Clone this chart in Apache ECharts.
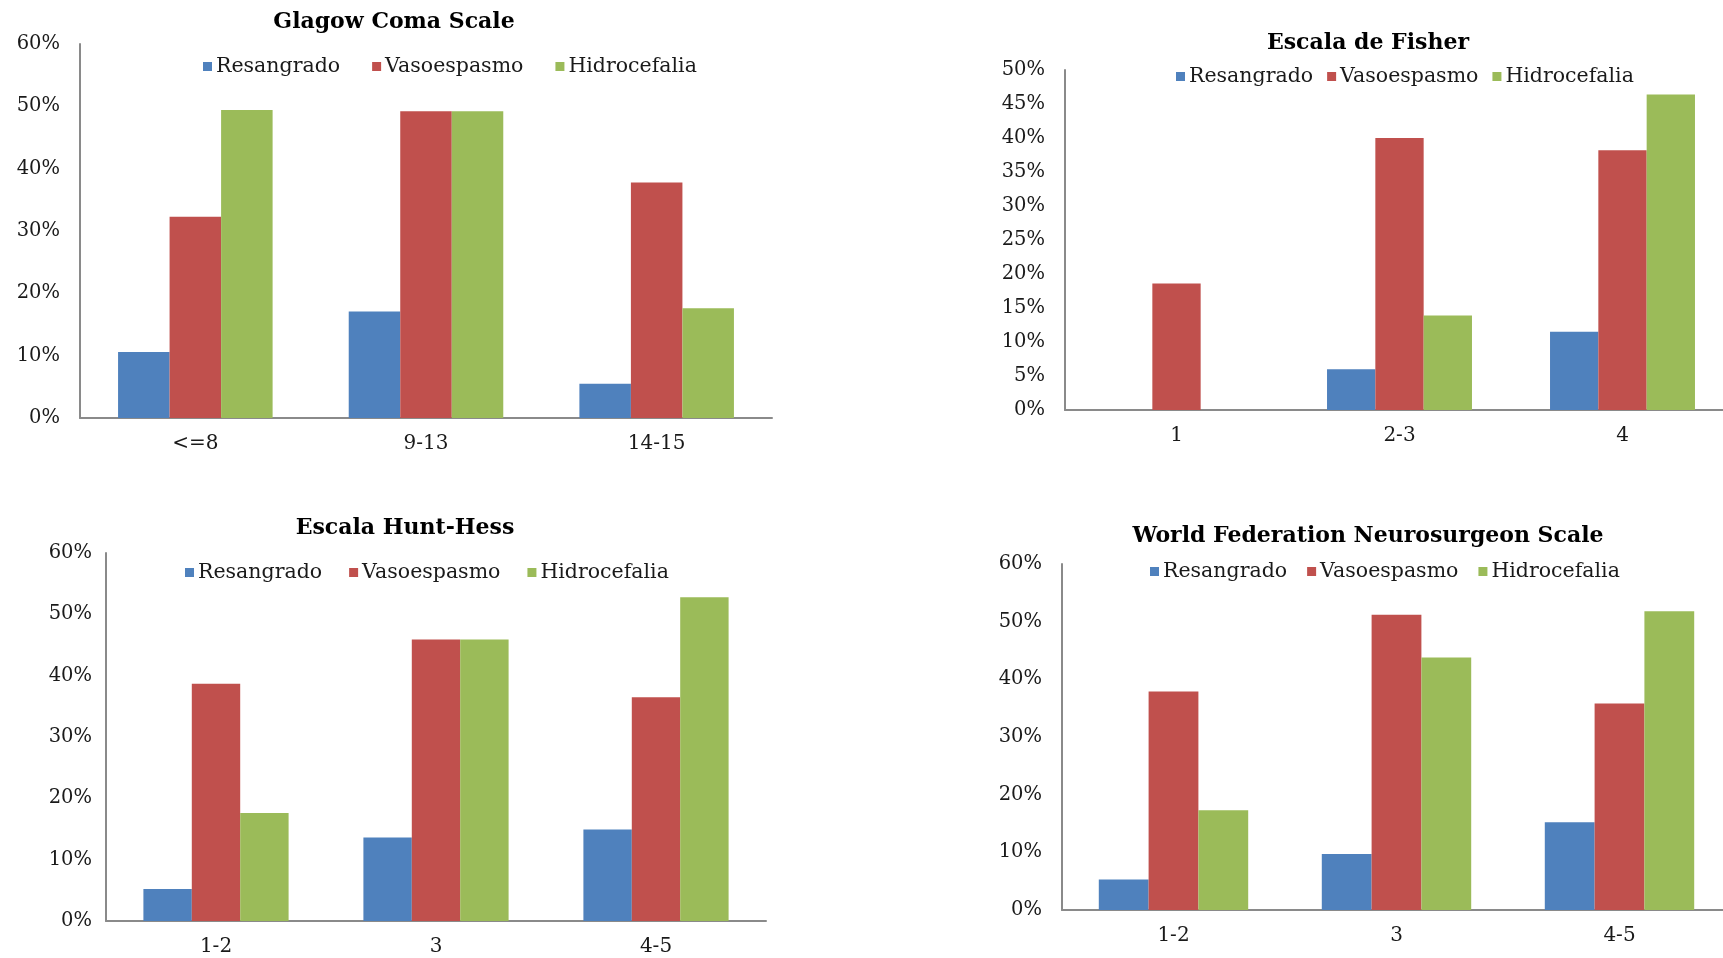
<!DOCTYPE html>
<html>
<head>
<meta charset="utf-8">
<script src="https://cdn.jsdelivr.net/npm/echarts@6/dist/echarts.min.js"></script>
<style>
  html, body { margin: 0; padding: 0; background: #ffffff; overflow: hidden; }
  /* the right-hand panels run slightly past the page edge */
  #chart { width: 1760px; height: 958px; }
</style>
</head>
<body>
<div id="chart"></div>
<script>
// Complication rates (%) by clinical grading scale
const seriesNames = ['Resangrado', 'Vasoespasmo', 'Hidrocefalia'];
const seriesColors = ['#4F81BD', '#C0504D', '#9BBB59'];

// Glasgow Coma Scale
const gcsTitle = 'Glagow Coma Scale';
const gcsCategories = ['<=8', '9-13', '14-15'];
const gcsResangrado = [10.6, 17.1, 5.5];
const gcsVasoespasmo = [32.3, 49.2, 37.8];
const gcsHidrocefalia = [49.4, 49.2, 17.6];

// Fisher scale
const fisherTitle = 'Escala de Fisher';
const fisherCategories = ['1', '2-3', '4'];
const fisherResangrado = [0, 6.0, 11.5];
const fisherVasoespasmo = [18.6, 40.0, 38.2];
const fisherHidrocefalia = [0, 13.9, 46.4];

// Hunt-Hess scale
const huntTitle = 'Escala Hunt-Hess';
const huntCategories = ['1-2', '3', '4-5'];
const huntResangrado = [5.2, 13.6, 14.9];
const huntVasoespasmo = [38.7, 45.9, 36.5];
const huntHidrocefalia = [17.6, 45.9, 52.8];

// WFNS scale
const wfnsTitle = 'World Federation Neurosurgeon Scale';
const wfnsCategories = ['1-2', '3', '4-5'];
const wfnsResangrado = [5.3, 9.7, 15.2];
const wfnsVasoespasmo = [37.9, 51.2, 35.8];
const wfnsHidrocefalia = [17.3, 43.8, 51.8];

const serifFont = '"DejaVu Serif", "Liberation Serif", serif';
const textColor = '#1a1a1a';
const axisColor = '#8a8a8a';

// Layout of each panel: plot area, title, legend and axis details
const panels = [
  { title: gcsTitle, cats: gcsCategories, data: [gcsResangrado, gcsVasoespasmo, gcsHidrocefalia],
    max: 60, interval: 10, grid: { left: 80, top: 44, width: 692, height: 374 },
    titleX: 394, titleY: 22, legendX: 203, legendY: 56, legendGap: 32, yMargin: 20, gap: '33%' },
  { title: fisherTitle, cats: fisherCategories, data: [fisherResangrado, fisherVasoespasmo, fisherHidrocefalia],
    max: 50, interval: 5, grid: { left: 1065, top: 70, width: 669, height: 340 },
    titleX: 1368, titleY: 43, legendX: 1176, legendY: 66, legendGap: 14, yMargin: 20, gap: '35%' },
  { title: huntTitle, cats: huntCategories, data: [huntResangrado, huntVasoespasmo, huntHidrocefalia],
    max: 60, interval: 10, grid: { left: 106, top: 553, width: 660, height: 368 },
    titleX: 405, titleY: 528, legendX: 185, legendY: 562, legendGap: 27, yMargin: 14, gap: '34%' },
  { title: wfnsTitle, cats: wfnsCategories, data: [wfnsResangrado, wfnsVasoespasmo, wfnsHidrocefalia],
    max: 60, interval: 10, grid: { left: 1062, top: 564, width: 669, height: 346 },
    titleX: 1368, titleY: 536, legendX: 1150, legendY: 561, legendGap: 20, yMargin: 20, gap: '33%' }
];

const option = {
  backgroundColor: '#ffffff',
  animation: false,
  title: [],
  legend: [],
  grid: [],
  xAxis: [],
  yAxis: [],
  series: []
};

panels.forEach((p, i) => {
  option.title.push({
    text: p.title,
    left: p.titleX,
    top: p.titleY,
    textAlign: 'center',
    textVerticalAlign: 'middle',
    padding: 0,
    textStyle: { fontFamily: serifFont, fontWeight: 'bold', fontSize: 22, color: '#000000' }
  });
  option.legend.push({
    data: seriesNames.map(n => ({ name: n })),
    left: p.legendX,
    top: p.legendY,
    padding: 0,
    icon: 'rect',
    itemWidth: 9,
    itemHeight: 9,
    itemGap: p.legendGap,
    selectedMode: false,
    textStyle: { fontFamily: serifFont, fontSize: 20.5, color: textColor, padding: [0, 0, 0, -1] }
  });
  option.grid.push(Object.assign({ containLabel: false }, p.grid));
  option.xAxis.push({
    type: 'category',
    gridIndex: i,
    data: p.cats,
    axisLine: { lineStyle: { color: axisColor, width: 2 } },
    axisTick: { show: false },
    axisLabel: { fontFamily: serifFont, fontSize: 20, color: textColor, margin: 16 }
  });
  option.yAxis.push({
    type: 'value',
    gridIndex: i,
    min: 0,
    max: p.max,
    interval: p.interval,
    axisLine: { show: true, lineStyle: { color: axisColor, width: 2 } },
    axisTick: { show: false },
    splitLine: { show: false },
    axisLabel: { fontFamily: serifFont, fontSize: 19.5, color: textColor, margin: p.yMargin, formatter: '{value}%' }
  });
  seriesNames.forEach((name, s) => {
    option.series.push({
      type: 'bar',
      name: name,
      xAxisIndex: i,
      yAxisIndex: i,
      data: p.data[s],
      barGap: '0%',
      barCategoryGap: p.gap,
      itemStyle: { color: seriesColors[s] }
    });
  });
});

const chart = echarts.init(document.getElementById('chart'), null, { renderer: 'canvas' });
chart.setOption(option);
</script>
</body>
</html>
